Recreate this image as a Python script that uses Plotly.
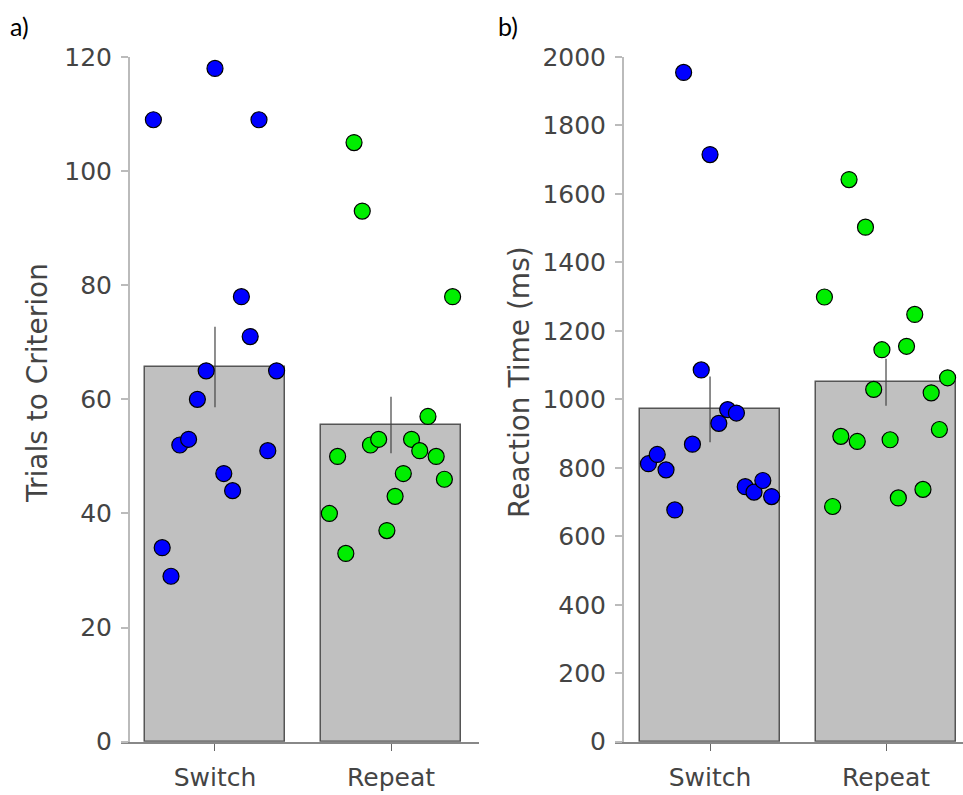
import numpy as np
import plotly.graph_objects as go

# ---------------- data ----------------
categories = ["Switch", "Repeat"]

# Panel a) Trials to criterion (subjects in plotted order, left to right)
switch_trials = [109, 34, 29, 52, 53, 60, 65, 118, 47, 44, 78, 71, 109, 51, 65]
repeat_trials = [40, 50, 33, 105, 93, 52, 53, 37, 43, 47, 53, 51, 57, 50, 46, 78]

# Panel b) Reaction time (ms)
switch_rt = [812, 839, 794, 677, 1955, 869, 1086, 1715, 930, 970, 960, 745, 729, 763, 716]
repeat_rt = [1299, 687, 892, 1642, 877, 1503, 1029, 1145, 882, 712, 1155, 1248, 737, 1019, 912, 1063]

trial_ticks = [0, 20, 40, 60, 80, 100, 120]
rt_ticks = [0, 200, 400, 600, 800, 1000, 1200, 1400, 1600, 1800, 2000]

# ---------------- helpers ----------------
W, H = 963, 795
def px(x):
    return x / W
def py(y):
    return 1 - y / H

def mean_sem(v):
    a = np.asarray(v, dtype=float)
    return a.mean(), a.std(ddof=1) / np.sqrt(len(a))

def jitter(n, center):
    return list(center + np.linspace(-0.35, 0.35, n))

BAR_FILL = "#c0c0c0"
BAR_LINE = "#555555"
BLUE = "#0000ff"
GREEN = "#00ee00"
TXT = "#444444"
FONT = "DejaVu Sans"

fig = go.Figure()

def add_panel(sw, rp, xa, ya):
    m1, s1 = mean_sem(sw)
    m2, s2 = mean_sem(rp)
    fig.add_trace(go.Bar(
        x=[0, 1], y=[m1, m2], width=0.795,
        marker=dict(color=BAR_FILL, line=dict(color=BAR_LINE, width=1.5)),
        error_y=dict(type="data", array=[s1, s2], color="#444444", thickness=1.2, width=0),
        xaxis=xa, yaxis=ya, showlegend=False, hoverinfo="skip"))
    for vals, c, col in [(sw, 0, BLUE), (rp, 1, GREEN)]:
        fig.add_trace(go.Scatter(
            x=jitter(len(vals), c), y=vals, mode="markers",
            marker=dict(size=16, color=col, line=dict(color="#000000", width=1.2)),
            cliponaxis=False, xaxis=xa, yaxis=ya, showlegend=False))

add_panel(switch_trials, repeat_trials, "x", "y")
add_panel(switch_rt, repeat_rt, "x2", "y2")

ydom = [py(741.7), py(57)]

xcommon = dict(
    tickvals=[0, 1], ticktext=categories,
    showline=True, linecolor="#888888", linewidth=2,
    ticks="outside", ticklen=7, tickcolor="#666666", tickwidth=1,
    showgrid=False, zeroline=False, fixedrange=True, automargin=False,
    tickfont=dict(family=FONT, size=25, color=TXT),
    ticklabelstandoff=5,
)
ycommon = dict(
    showline=True, linecolor="#bbbbbb", linewidth=2,
    ticks="outside", ticklen=7, tickcolor="#bbbbbb", tickwidth=2,
    showgrid=False, zeroline=False, fixedrange=True, automargin=False,
    tickfont=dict(family=FONT, size=25, color=TXT),
    ticklabelstandoff=4, domain=ydom, anchor="free",
)

fig.update_layout(
    template="none",
    width=W, height=H, autosize=False,
    margin=dict(l=0, r=0, t=0, b=0, pad=0),
    paper_bgcolor="white", plot_bgcolor="white",
    showlegend=False, bargap=0,
    xaxis=dict(domain=[px(121), px(479)], range=[-0.534, 1.5], anchor="y", **xcommon),
    yaxis=dict(range=[0, 120], tickvals=trial_ticks, position=px(129), **ycommon),
    xaxis2=dict(domain=[px(615), 1.0], range=[-0.54, 1.4375], anchor="y2", **xcommon),
    yaxis2=dict(range=[0, 2000], tickvals=rt_ticks, position=px(623), **ycommon),
    annotations=[
        dict(text="Trials to Criterion", textangle=-90, x=px(37), y=py(383),
             xref="paper", yref="paper", xanchor="center", yanchor="middle",
             showarrow=False, font=dict(family=FONT, size=28, color=TXT)),
        dict(text="Reaction Time (ms)", textangle=-90, x=px(519), y=py(382),
             xref="paper", yref="paper", xanchor="center", yanchor="middle",
             showarrow=False, font=dict(family=FONT, size=28, color=TXT)),
        dict(text="a)", x=px(8), y=py(26), xref="paper", yref="paper",
             xanchor="left", yanchor="middle", showarrow=False,
             font=dict(family="Lato", size=25, color="#000000")),
        dict(text="b)", x=px(496), y=py(26), xref="paper", yref="paper",
             xanchor="left", yanchor="middle", showarrow=False,
             font=dict(family="Lato", size=25, color="#000000")),
    ],
)

fig.write_html("out.html")
